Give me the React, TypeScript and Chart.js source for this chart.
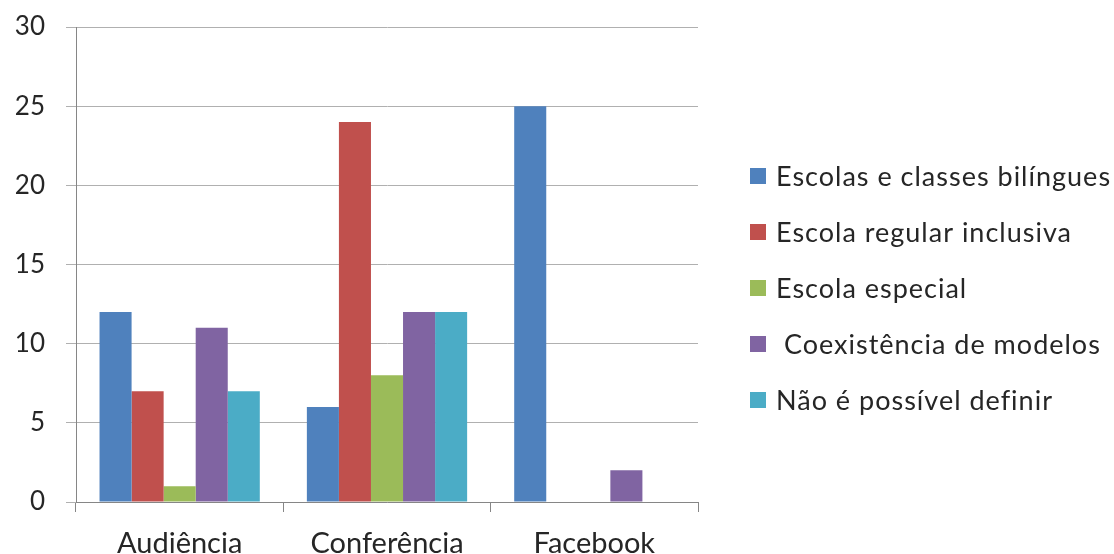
import React, { useEffect, useRef } from "react";
import { Chart, registerables } from "chart.js";

Chart.register(...registerables);

const categories = ["Audiência", "Conferência", "Facebook"];
const seriesNames = [
  "Escolas e classes bilíngues",
  "Escola regular inclusiva",
  "Escola especial",
  " Coexistência de modelos",
  "Não é possível definir",
];
const seriesColors = ["#4F81BD", "#C0504D", "#9BBB59", "#8064A2", "#4BACC6"];
const escolasBilingues = [12, 6, 25];
const escolaRegular = [7, 24, 0];
const escolaEspecial = [1, 8, 0];
const coexistencia = [11, 12, 2];
const naoDefinir = [7, 12, 0];
const yTicks = [0, 5, 10, 15, 20, 25, 30];

const FONT = "Lato, 'Open Sans', sans-serif";

const legendPlugin = {
  id: "customLegend",
  afterDraw(chart: any) {
    const ctx = chart.ctx;
    const ds = chart.data.datasets;
    const x0 = 750;
    const yStart = 176;
    const step = 56;
    const box = 16;
    ctx.save();
    ctx.font = `27px ${FONT}`;
    try {
      (ctx as any).letterSpacing = "1px";
    } catch (e) {}
    ctx.textBaseline = "middle";
    ctx.textAlign = "left";
    ds.forEach((d: any, i: number) => {
      const y = yStart + i * step;
      ctx.fillStyle = d.backgroundColor;
      ctx.fillRect(x0, y - box / 2, box, box);
      ctx.fillStyle = "#262626";
      ctx.fillText(d.label, x0 + 26, y + 1);
    });
    ctx.restore();
  },
};

export default function App() {
  const ref = useRef<HTMLCanvasElement | null>(null);
  useEffect(() => {
    if (!ref.current) return;
    const series = [escolasBilingues, escolaRegular, escolaEspecial, coexistencia, naoDefinir];
    const chart = new Chart(ref.current, {
      type: "bar",
      data: {
        labels: categories,
        datasets: series.map((s, i) => ({
          label: seriesNames[i],
          data: s,
          backgroundColor: seriesColors[i],
          borderWidth: 0,
          categoryPercentage: 0.773,
          barPercentage: 1.0,
        })),
      },
      options: {
        responsive: false,
        animation: false,
        layout: { padding: { top: 27, right: 416, left: 0, bottom: 0 } },
        plugins: {
          legend: { display: false },
          tooltip: { enabled: false },
        },
        scales: {
          x: {
            offset: true,
            grid: {
              display: true,
              drawOnChartArea: false,
              drawTicks: true,
              tickLength: 10,
              color: "#868686",
              offset: true,
            },
            border: { color: "#868686", width: 1 },
            ticks: {
              font: { family: FONT, size: 29 },
              color: "#262626",
              padding: 14,
            },
            afterFit(scale: any) {
              scale.height = 52;
              scale.paddingLeft = 0;
              scale.paddingRight = 0;
            },
          },
          y: {
            min: 0,
            max: 30,
            afterBuildTicks(scale: any) {
              scale.ticks = yTicks.map((v) => ({ value: v }));
            },
            grid: {
              color: "#b0b0b0",
              tickLength: 10,
            },
            border: { color: "#868686", width: 1 },
            ticks: {
              font: { family: FONT, size: 26 },
              color: "#262626",
              padding: 21,
            },
            afterFit(scale: any) {
              scale.width = 76;
              scale.paddingTop = 0;
              scale.paddingBottom = 0;
            },
          },
        },
      },
      plugins: [legendPlugin],
    });
    return () => chart.destroy();
  }, []);
  return (
    <div style={{ position: "absolute", left: 0, top: 0, width: 1114, height: 554, background: "#fff" }}>
      <canvas ref={ref} width={1114} height={554} />
    </div>
  );
}
